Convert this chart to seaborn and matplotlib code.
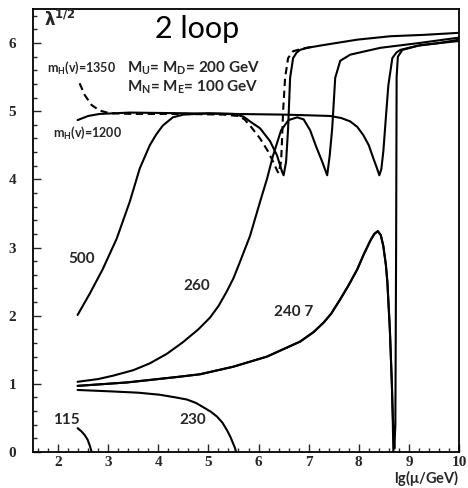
import matplotlib
matplotlib.use("Agg")
import matplotlib.pyplot as plt
from matplotlib.ticker import MultipleLocator
import seaborn as sns
import pandas as pd

# ---- data ----
x_1350 = [2.43, 2.53, 2.67, 2.83, 3.03, 3.5, 4.5, 5.3, 5.6, 5.72, 5.83, 6.03, 6.19, 6.29, 6.37, 6.40,
          6.45, 6.47, 6.49, 6.53, 6.59, 6.69, 6.83, 7.1]
y_1350 = [5.41, 5.24, 5.09, 5.01, 4.97, 4.96, 4.96, 4.95, 4.93, 4.88, 4.79, 4.60, 4.41, 4.26, 4.13, 4.09,
          4.26, 4.60, 5.00, 5.49, 5.78, 5.88, 5.91, 5.95]

x_1200 = [2.39, 2.6, 2.83, 3.43, 4.5, 5.5, 6.5, 7.0, 7.43, 7.65, 7.83, 7.97, 8.09, 8.2, 8.29, 8.36,
          8.41, 8.45, 8.49, 8.54, 8.59, 8.67, 8.75, 8.83, 9.17, 9.6, 10.0]
y_1200 = [4.87, 4.93, 4.96, 4.98, 4.97, 4.96, 4.95, 4.94, 4.93, 4.90, 4.85, 4.77, 4.65, 4.50, 4.31, 4.17,
          4.06, 4.15, 4.41, 4.90, 5.38, 5.78, 5.86, 5.90, 5.96, 6.00, 6.05]

x_500 = [2.39, 2.63, 2.89, 3.17, 3.43, 3.63, 3.83, 3.96, 4.09, 4.29, 4.5, 5.0, 5.5, 5.7, 5.83, 6.03,
         6.23, 6.37, 6.47, 6.50, 6.55, 6.59, 6.63, 6.69, 6.76, 6.83, 6.97, 7.29, 7.97, 8.63, 9.29, 10.0]
y_500 = [2.01, 2.32, 2.68, 3.13, 3.67, 4.16, 4.50, 4.66, 4.79, 4.91, 4.95, 4.97, 4.96, 4.92, 4.85, 4.75,
         4.56, 4.35, 4.11, 4.06, 4.26, 4.75, 5.49, 5.78, 5.86, 5.90, 5.93, 5.97, 6.05, 6.10, 6.12, 6.15]

x_260 = [2.39, 2.8, 3.1, 3.5, 3.83, 4.17, 4.49, 4.8, 5.03, 5.2, 5.37, 5.5, 5.63, 5.83, 6.03, 6.17,
         6.29, 6.45, 6.6, 6.77, 6.9, 7.03, 7.15, 7.27, 7.37, 7.42, 7.47, 7.53, 7.63, 7.83, 8.43,
         9.2, 10.0]
y_260 = [1.03, 1.07, 1.12, 1.20, 1.30, 1.44, 1.61, 1.80, 1.97, 2.14, 2.36, 2.55, 2.79, 3.17, 3.67, 4.01,
         4.35, 4.72, 4.87, 4.91, 4.88, 4.72, 4.48, 4.26, 4.06, 4.35, 4.75, 5.49, 5.74, 5.83, 5.93,
         6.00, 6.08]

x_240 = [2.39, 3.37, 4.37, 4.83, 5.49, 6.17, 6.83, 7.1, 7.3, 7.45, 7.63, 7.8, 7.97, 8.1, 8.23,
         8.31, 8.38, 8.44, 8.49, 8.54, 8.57, 8.62, 8.66, 8.68, 8.69]
y_240 = [0.97, 1.02, 1.10, 1.14, 1.25, 1.40, 1.62, 1.76, 1.90, 2.03, 2.24, 2.45, 2.68, 2.90, 3.10,
         3.20, 3.24, 3.18, 3.02, 2.75, 2.50, 1.80, 1.00, 0.40, 0.0]

x_247 = [2.39, 3.37, 4.37, 4.83, 5.49, 6.17, 6.83, 7.1, 7.3, 7.45, 7.63, 7.8, 7.97, 8.1, 8.23,
         8.31, 8.38, 8.44, 8.49, 8.54, 8.57, 8.62, 8.66, 8.69, 8.71, 8.73, 8.745, 8.755, 8.78,
         8.87, 9.23, 10.0]
y_247 = [0.97, 1.02, 1.10, 1.14, 1.25, 1.40, 1.62, 1.76, 1.90, 2.03, 2.24, 2.45, 2.68, 2.90, 3.10,
         3.20, 3.24, 3.18, 3.02, 2.75, 2.50, 1.80, 1.00, 0.30, 0.05, 0.40, 3.00, 5.50, 5.80,
         5.90, 5.97, 6.03]

x_230 = [2.39, 3.03, 3.6, 4.03, 4.35, 4.57, 4.75, 4.89, 5.05, 5.17, 5.28, 5.37, 5.44, 5.49, 5.53, 5.55]
y_230 = [0.91, 0.89, 0.87, 0.84, 0.80, 0.77, 0.72, 0.66, 0.59, 0.52, 0.43, 0.32, 0.22, 0.13, 0.06, 0.0]

x_115 = [2.39, 2.47, 2.53, 2.59, 2.63, 2.67]
y_115 = [0.35, 0.30, 0.25, 0.18, 0.10, 0.0]

x_ticks = [2, 3, 4, 5, 6, 7, 8, 9, 10]
y_ticks = [0, 1, 2, 3, 4, 5, 6]

curve_labels = ["500", "260", "240 7", "115", "230"]
curve_label_x = [2.47, 4.77, 6.71, 2.17, 4.69]
curve_label_y = [2.83, 2.43, 2.05, 0.47, 0.47]

# ---- style ----
sns.set_style("ticks")
plt.rcParams["font.family"] = ["Lato", "DejaVu Sans"]
plt.rcParams["mathtext.default"] = "regular"

fig = plt.figure(figsize=(4.68, 4.88), dpi=100)
ax = fig.add_axes([0.0705, 0.0738, 0.9103, 0.9078])

lw = 1.5
solid = [(x_1200, y_1200), (x_500, y_500), (x_260, y_260), (x_240, y_240),
         (x_247, y_247), (x_230, y_230), (x_115, y_115)]
for xs, ys in solid:
    df = pd.DataFrame({"x": xs, "y": ys})
    sns.lineplot(data=df, x="x", y="y", sort=False, estimator=None, color="black",
                 linewidth=lw, ax=ax)
df = pd.DataFrame({"x": x_1350, "y": y_1350})
sns.lineplot(data=df, x="x", y="y", sort=False, estimator=None, color="black",
             linewidth=lw, linestyle=(0, (3.5, 2.2)), ax=ax)

ax.set_xlim(1.5, 10)
ax.set_ylim(0, 6.5)
ax.set_xticks(x_ticks)
ax.set_yticks(y_ticks)
ax.xaxis.set_minor_locator(MultipleLocator(0.2))
ax.yaxis.set_minor_locator(MultipleLocator(0.2))
ax.tick_params(which="both", direction="in", top=False, right=False, width=1.0)
ax.tick_params(which="major", length=6)
ax.tick_params(which="minor", length=3)
ax.tick_params(axis="y", pad=12)
ax.tick_params(axis="x", pad=3)
for lab in ax.get_xticklabels() + ax.get_yticklabels():
    lab.set_fontfamily("Liberation Serif")
    lab.set_fontweight("bold")
    lab.set_fontsize(11)
for sp in ax.spines.values():
    sp.set_visible(True)
    sp.set_linewidth(1.3)
    sp.set_color("black")

ax.set_ylabel("")
ax.set_xlabel("")
ax.text(1.0, -0.058, r"lg($\mu$/GeV)", transform=ax.transAxes, fontsize=10.5,
        fontweight="bold", ha="right", va="center")

ax.text(1.72, 6.34, r"$\lambda^{1/2}$", fontsize=12, fontweight="bold", va="center", ha="left",
        family="DejaVu Sans")
ax.text(4.77, 6.2, "2 loop", fontsize=22, va="center", ha="center", fontweight="normal",
        color="black")
ax.text(3.37, 5.63, r"M$_U$= M$_D$= 200 GeV", fontsize=11, fontweight="bold", va="center", ha="left")
ax.text(3.37, 5.35, r"M$_N$= M$_E$= 100 GeV", fontsize=11, fontweight="bold", va="center", ha="left")
ax.text(1.77, 5.63, r"m$_H$(v)=1350", fontsize=9, fontweight="bold", va="center", ha="left")
ax.text(1.89, 4.68, r"m$_H$(v)=1200", fontsize=9, fontweight="bold", va="center", ha="left")
for t, tx, ty in zip(curve_labels, curve_label_x, curve_label_y):
    ax.text(tx, ty, t, fontsize=11, fontweight="bold", va="center", ha="center")

fig.savefig("out.png", dpi=100)
